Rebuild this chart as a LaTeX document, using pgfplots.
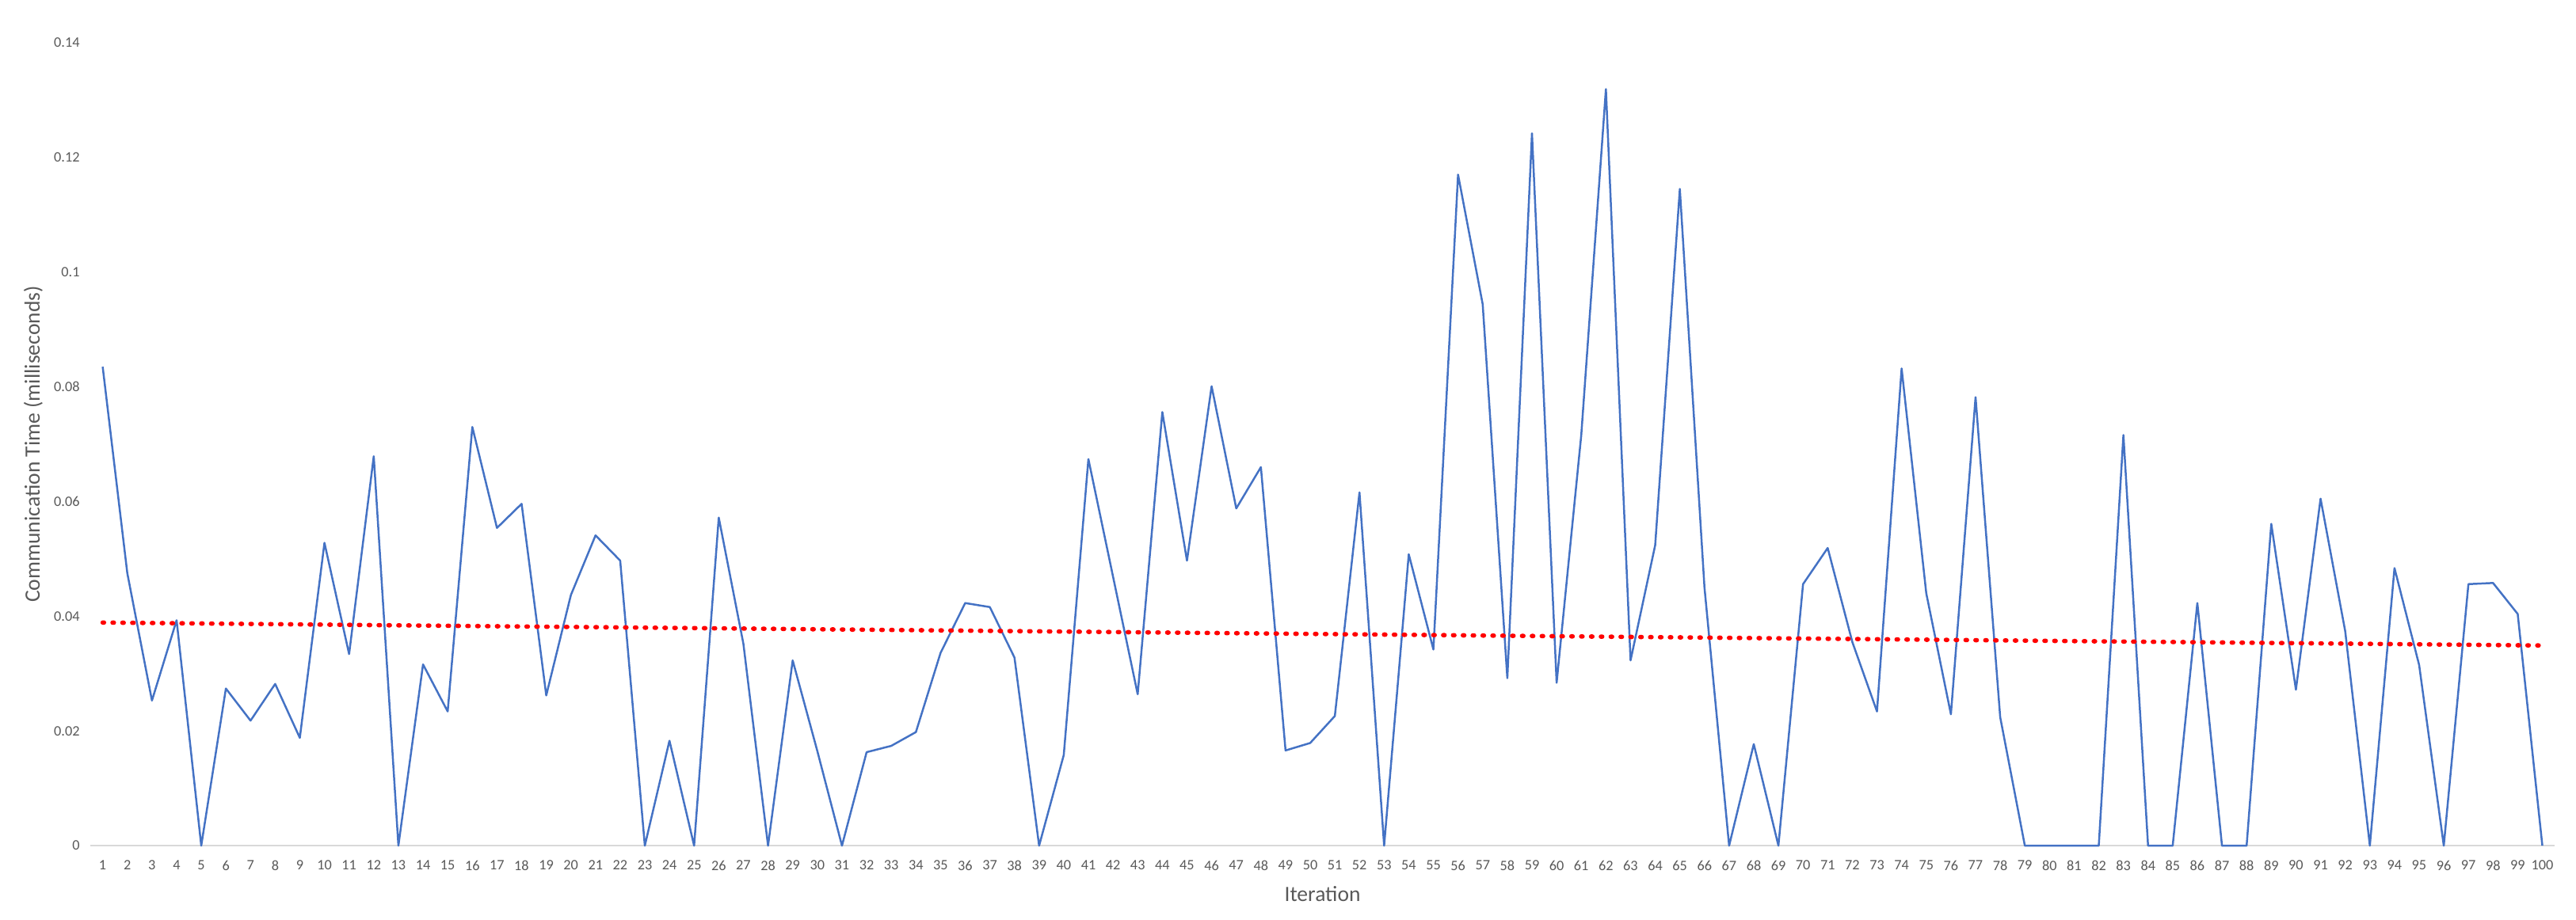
\documentclass[border=0pt]{standalone}
\usepackage{pgfplots}
\pgfplotsset{compat=1.18}
\usepackage{pgfplotstable}
\usepackage{fontspec}
\setmainfont{Carlito}
\definecolor{serblue}{HTML}{4472C4}
\definecolor{txtgray}{HTML}{595959}
\definecolor{axgray}{HTML}{D9D9D9}
\pgfplotstableread{
x y
1 0.0835
2 0.0475
3 0.0253
4 0.0393
5 0
6 0.0274
7 0.0218
8 0.0282
9 0.0188
10 0.0528
11 0.0334
12 0.0679
13 0
14 0.0316
15 0.0234
16 0.0730
17 0.0554
18 0.0596
19 0.0262
20 0.0437
21 0.0541
22 0.0497
23 0
24 0.0183
25 0
26 0.0572
27 0.0352
28 0
29 0.0323
30 0.0165
31 0
32 0.0163
33 0.0174
34 0.0198
35 0.0336
36 0.0423
37 0.0416
38 0.0328
39 0
40 0.0158
41 0.0674
42 0.0469
43 0.0264
44 0.0756
45 0.0497
46 0.0801
47 0.0588
48 0.0660
49 0.0166
50 0.0179
51 0.0226
52 0.0616
53 0
54 0.0508
55 0.0342
56 0.1170
57 0.0944
58 0.0292
59 0.1242
60 0.0284
61 0.0716
62 0.1319
63 0.0323
64 0.0524
65 0.1145
66 0.0450
67 0
68 0.0177
69 0
70 0.0456
71 0.0519
72 0.0355
73 0.0234
74 0.0832
75 0.0440
76 0.0229
77 0.0782
78 0.0224
79 0
80 0
81 0
82 0
83 0.0716
84 0
85 0
86 0.0423
87 0
88 0
89 0.0561
90 0.0272
91 0.0605
92 0.0374
93 0
94 0.0484
95 0.0315
96 0
97 0.0456
98 0.0458
99 0.0404
100 0
}\datatable
\begin{document}
\begin{tikzpicture}
\path[use as bounding box] (0,0) rectangle (1568pt,560pt);
\begin{axis}[
  at={(55pt,45pt)}, anchor=south west,
  scale only axis, width=1500pt, height=489pt,
  xmin=0.5, xmax=100.5, ymin=0, ymax=0.14,
  axis lines=left,
  x axis line style={-, draw=axgray, line width=1.2pt},
  y axis line style={draw=none},
  major tick length=0pt,
  xtick={1,...,100},
  ytick={0,0.02,0.04,0.06,0.08,0.1,0.12,0.14},
  yticklabels={0,0.02,0.04,0.06,0.08,0.1,0.12,0.14},
  /pgf/number format/assume math mode=true,
  tick label style={font=\fontsize{8.8}{10}\selectfont, text=txtgray},
  xticklabel style={yshift=-5.5pt},
  yticklabel style={xshift=-3pt},
  xlabel={Iteration},
  ylabel={Communication Time (milliseconds)},
  label style={font=\fontsize{13.3}{15}\selectfont, text=txtgray},
  xlabel style={yshift=-3pt},
  ylabel style={yshift=0pt},
  clip=false,
]
\addplot[color=serblue, line width=1.2pt, line join=round] table[x=x,y=y] {\datatable};
\addplot[color=red, line width=2.7pt, line cap=round, dash pattern=on 0.8pt off 5.2pt] coordinates {(1,0.0389) (100,0.0349)};
\end{axis}
\end{tikzpicture}
\end{document}
